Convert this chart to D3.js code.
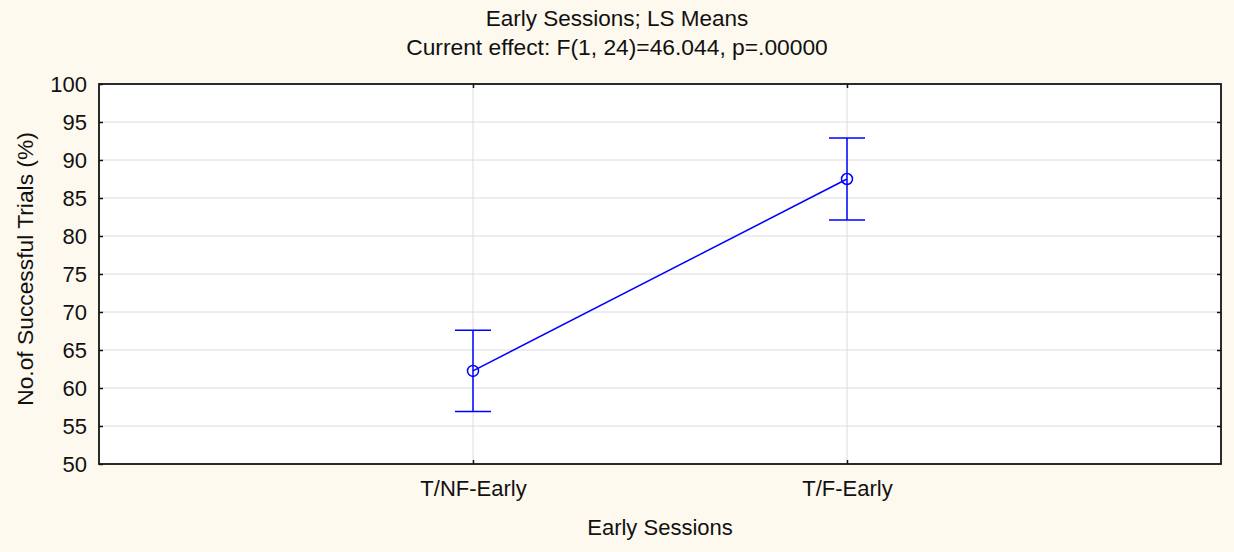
<!DOCTYPE html>
<html>
<head>
<meta charset="utf-8">
<script src="https://cdn.jsdelivr.net/npm/d3@7"></script>
<style>
  body { margin: 0; background: #fdf9ee; }
  svg { display: block; font-family: "Liberation Sans", Arial, sans-serif; }
  .axis text { font-size: 22px; fill: #111; }
  .axis .domain { display: none; }
</style>
</head>
<body>
<svg class="graphic" width="1234" height="552"></svg>
<script>
// data
const categories = ["T/NF-Early", "T/F-Early"];
const means = [62.25, 87.5];
const upper = [67.6, 92.9];
const lower = [56.9, 82.1];
const yTicks = [50, 55, 60, 65, 70, 75, 80, 85, 90, 95, 100];

const W = 1234, H = 552;
const MARGIN = { top: 84, right: 13, bottom: 88, left: 99 };
const w = W - MARGIN.left - MARGIN.right;
const h = H - MARGIN.top - MARGIN.bottom;

const $svg = d3.select('.graphic');

const x = d3.scalePoint().domain(categories).range([0, w]).padding(1);
const y = d3.scaleLinear().domain([50, 100]).range([h, 0]);

const g = $svg.append('g')
    .attr('transform', `translate(${MARGIN.left},${MARGIN.top})`);

// plot background
g.append('rect')
    .attr('width', w).attr('height', h)
    .attr('fill', '#fff');

// grid
g.append('g')
    .selectAll('line')
    .data(yTicks.slice(1, -1))
    .join('line')
    .attr('x1', 0).attr('x2', w)
    .attr('y1', d => y(d)).attr('y2', d => y(d))
    .attr('stroke', '#dcdcdc').attr('stroke-width', 1);

g.append('g')
    .selectAll('line')
    .data(categories)
    .join('line')
    .attr('x1', d => x(d)).attr('x2', d => x(d))
    .attr('y1', 0).attr('y2', h)
    .attr('stroke', '#dcdcdc').attr('stroke-width', 1);

// axes
g.append('g')
    .attr('class', 'y axis')
    .call(d3.axisLeft(y).tickValues(yTicks).tickSize(-4).tickPadding(12))
    .call(a => a.selectAll('.tick line').attr('stroke', '#111').attr('stroke-width', 1.5))
    .call(a => a.selectAll('.tick text').attr('dy', '0.36em'));

g.append('g')
    .attr('transform', `translate(${w},0)`)
    .attr('class', 'y axis')
    .call(d3.axisRight(y).tickValues(yTicks.slice(1, -1)).tickSize(-4).tickFormat(''))
    .call(a => a.selectAll('.tick line').attr('stroke', '#111').attr('stroke-width', 1.5));

g.append('g')
    .attr('class', 'x axis')
    .attr('transform', `translate(0,${h})`)
    .call(d3.axisBottom(x).tickSize(-4).tickPadding(16))
    .call(a => a.selectAll('.tick line').attr('stroke', '#111').attr('stroke-width', 1.5));

g.append('g')
    .attr('class', 'x axis')
    .call(d3.axisTop(x).tickSize(-4).tickFormat(''))
    .call(a => a.selectAll('.tick line').attr('stroke', '#111').attr('stroke-width', 1.5));

// frame
g.append('rect')
    .attr('width', w).attr('height', h)
    .attr('fill', 'none')
    .attr('stroke', '#141414').attr('stroke-width', 1.8);

// data
const blue = '#0000ff';
const pts = categories.map((c, i) => ({ cat: c, m: means[i], hi: upper[i], lo: lower[i] }));

g.append('path')
    .datum(pts)
    .attr('fill', 'none')
    .attr('stroke', blue).attr('stroke-width', 1.5)
    .attr('d', d3.line().x(d => x(d.cat)).y(d => y(d.m)));

const eb = g.append('g').selectAll('g').data(pts).join('g')
    .attr('stroke', blue).attr('stroke-width', 1.5).attr('fill', 'none');

eb.append('line')
    .attr('x1', d => x(d.cat)).attr('x2', d => x(d.cat))
    .attr('y1', d => y(d.hi)).attr('y2', d => y(d.lo));
eb.append('line')
    .attr('x1', d => x(d.cat) - 18).attr('x2', d => x(d.cat) + 18)
    .attr('y1', d => y(d.hi)).attr('y2', d => y(d.hi));
eb.append('line')
    .attr('x1', d => x(d.cat) - 18).attr('x2', d => x(d.cat) + 18)
    .attr('y1', d => y(d.lo)).attr('y2', d => y(d.lo));
eb.append('circle')
    .attr('cx', d => x(d.cat)).attr('cy', d => y(d.m))
    .attr('r', 5.5);

// titles (centred on the whole picture)
$svg.append('text')
    .attr('x', W / 2).attr('y', 26)
    .attr('text-anchor', 'middle')
    .attr('font-size', 22.5).attr('fill', '#111')
    .text('Early Sessions; LS Means');
$svg.append('text')
    .attr('x', W / 2).attr('y', 55)
    .attr('text-anchor', 'middle')
    .attr('font-size', 22.8).attr('fill', '#111')
    .text('Current effect: F(1, 24)=46.044, p=.00000');

$svg.append('text')
    .attr('x', MARGIN.left + w / 2).attr('y', 535)
    .attr('text-anchor', 'middle')
    .attr('font-size', 22).attr('fill', '#111')
    .text('Early Sessions');

$svg.append('text')
    .attr('transform', `translate(33,${MARGIN.top + h / 2 - 5}) rotate(-90)`)
    .attr('text-anchor', 'middle')
    .attr('font-size', 22.8).attr('fill', '#111')
    .text('No.of Successful Trials (%)');
</script>
</body>
</html>
